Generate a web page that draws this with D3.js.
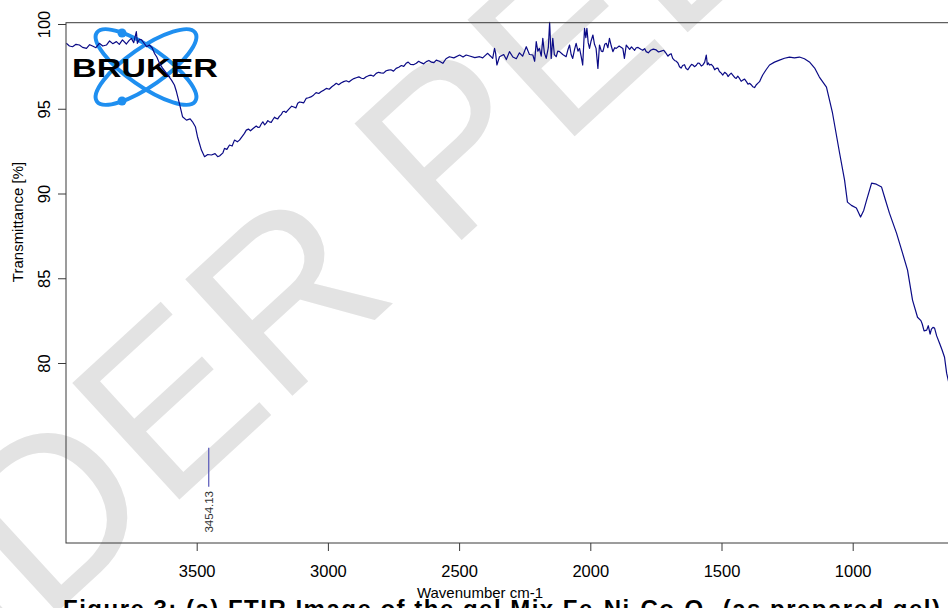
<!DOCTYPE html>
<html><head><meta charset="utf-8">
<script src="https://cdn.jsdelivr.net/npm/d3@7"></script>
<style>body{margin:0;background:#fff;overflow:hidden}svg{display:block}</style>
</head><body>
<svg id="c" width="948" height="608"></svg>
<script>
// ---- data ----
const wavenumbers = [
3997,3985,3973,3960,3947,3935,3920,3908,3897,3884,3871,3858,3844,3832,3820,3806,3795,3783,3768,3758,3749,3740,3730,3726,3718,3710,3700,3691,3680,3670,3661,3652,3642,3630,3615,3596,3585,3577,3566,3554,3539,3525,3516,3505,3497,3482,3470,3458,3444,3430,3420,3413,3400,3394,3385,3375,3365,3356,3345,3337,
3325,3311,3295,3273,3260,3248,3235,3223,3210,3197,3185,3172,3160,3146,3130,3115,3100,3083,3065,3045,3025,3006,2985,2968,2950,2930,2910,2892,2872,2854,2835,2816,2798,2778,2760,2740,2720,2702,2685,2663,2645,2625,2605,2587,2575,2562,2550,2537,2520,2498,2485,2473,2460,2440,2422,2410,2400,2391,2380,2372,2365,2361,2356,2346,
2330,2320,2308,2295,2282,2270,2258,2244,2232,2219,2212,2206,2200,2194,2187,2181,2175,2168,2160,2155,2149,2143,2137,2130,2124,2117,2105,2092,2085,2079,2073,2067,2060,2054,2047,2041,2035,2029,2022,2017,2013,2008,2003,1997,1990,1984,1978,1971,1965,1958,1952,1945,1939,1933,1927,1920,1914,1907,1901,1890,1876,1870,1863,1850,1838,1825,1812,1800,1787,1770,1749,1730,1711,1698,1686,1672,1660,1648,1635,1620,1609,1597,1584,1570,1558,1550,1546,1532,1520,1508,1495,1480,1470,1457,1444,1432,1419,1405,1393,1381,1368,1355,1343,1330,1317,1298,1279,1260,1241,1222,1203,1184,1165,1145,1127,1100,1077,1050,1031,1020,1005,986,970,958,947,928,910,890,875,860,833,810,791,772,753,735,718,700,688,669,650,642,630,
3318,3303,3284,3266,3254,3241,3229,3216,3203,3191,3178,3166,3153,3138,3122,3108,3092,3074,3055,3035,3015,2995,2976,2959,2940,2920,2901,2882,2863,2845,2826,2807,2788,2769,2750,2730,2711,2694,2674,2654,2635,2615,2596,
1843,1831,1818,1806,1793,1779,1760,1740,1720,1704,1692,1679,1666,1654,1641,1628,1614,1603,1590,1577,1564,1554,1539,1526,1514,1501,1488,1475,1463,1450,1438,1425,1412,1399,1387,1374,1362,1349,
740,728,712,705,694,680,660];
const transmittance = [
98.86,98.70,98.66,98.80,98.76,98.62,98.56,98.78,98.70,98.60,98.86,98.70,98.76,99.00,98.84,98.96,98.80,99.06,98.82,99.02,99.15,98.90,99.55,98.86,99.10,99.06,98.85,98.66,98.76,98.60,98.27,98.05,97.68,97.40,97.09,96.69,96.40,96.00,95.32,94.53,94.33,94.40,94.23,93.94,93.35,92.56,92.17,92.30,92.27,92.35,92.18,92.21,92.40,92.66,92.60,92.86,92.80,93.15,93.05,93.15,
93.40,93.74,93.70,93.98,93.92,94.23,94.15,94.23,94.35,94.43,94.55,94.82,94.78,95.02,95.10,95.32,95.38,95.61,95.70,95.95,96.02,96.20,96.30,96.50,96.52,96.65,96.70,96.83,96.80,96.89,96.98,97.09,97.12,97.24,97.30,97.38,97.55,97.68,97.62,97.68,97.72,97.78,97.75,97.87,97.80,97.68,97.95,98.07,98.00,98.17,98.05,98.17,98.11,98.02,98.07,98.00,98.15,98.27,98.10,97.97,98.56,98.30,97.58,98.07,
98.20,97.90,98.37,98.05,97.95,98.30,98.10,98.66,98.20,98.17,97.80,98.96,98.40,98.56,98.10,99.15,98.30,97.97,98.60,100.10,97.97,99.15,98.20,98.07,98.40,98.37,98.20,98.07,98.50,98.76,98.20,97.97,98.50,98.86,98.40,98.56,98.10,97.58,99.74,99.20,99.74,98.90,98.56,99.00,99.35,98.80,98.56,97.38,98.76,98.40,98.37,98.80,98.86,98.60,99.15,98.70,98.37,98.60,98.56,98.70,98.56,97.97,98.76,98.50,98.56,98.60,98.56,98.45,98.37,98.45,98.47,98.40,98.27,98.20,97.97,97.80,97.48,97.55,97.38,97.50,97.58,97.55,97.68,97.60,98.17,97.70,97.58,97.50,97.38,97.20,96.99,97.05,97.00,96.99,96.79,96.80,96.69,96.60,96.50,96.30,96.40,96.60,96.99,97.30,97.58,97.75,97.87,97.98,98.05,98.00,98.05,97.95,97.76,97.40,96.87,96.28,94.75,92.39,90.79,89.49,89.30,89.14,88.61,89.00,89.61,90.61,90.55,90.38,89.60,88.84,87.66,86.48,85.48,83.71,82.70,82.30,81.94,82.00,82.06,81.17,80.34,79.40,78.60,
93.55,93.80,93.85,93.90,94.10,94.05,94.30,94.20,94.50,94.40,94.65,94.85,94.90,95.15,95.05,95.40,95.35,95.65,95.80,95.90,96.10,96.15,96.40,96.42,96.60,96.58,96.78,96.88,96.78,96.95,96.92,97.15,97.10,97.28,97.22,97.45,97.50,97.75,97.60,97.80,97.65,97.85,97.72,
98.65,98.45,98.62,98.50,98.55,98.30,98.52,98.35,98.45,98.10,98.25,97.85,97.70,97.40,97.60,97.30,97.62,97.48,97.70,97.52,97.75,97.60,97.62,97.30,97.40,97.10,97.15,96.90,97.10,96.85,96.92,96.62,96.75,96.45,96.42,96.25,96.50,96.80,
82.50,81.90,82.20,81.70,82.10,81.60,80.80];
const xTickValues = [3500, 3000, 2500, 2000, 1500, 1000];
const yTickValues = [100, 95, 90, 85, 80];
const peakWavenumbers = [3454.13];
const peakLabels = ["3454.13"];
const xTitle = "Wavenumber cm-1";
const yTitle = "Transmittance [%]";
const watermarkText = "UNDER PEER REVIEW";
const logoText = "BRUKER";

// ---- drawing ----
const svg = d3.select("#c");
const FONT = "'Liberation Sans', Arial, sans-serif";
const L = 66, T = 22.7, B = 543, R = 1000;
const x = d3.scaleLinear().domain([3500, 1000]).range([196.7, 852.7]);
const y = d3.scaleLinear().domain([100, 80]).range([24, 363]);

// watermark
svg.append("text")
  .attr("transform", "translate(-255,791) rotate(-42.6)")
  .attr("dominant-baseline", "central")
  .attr("font-family", FONT).attr("font-size", 230)
  .attr("fill", "#e3e3e3")
  .text(watermarkText);

// logo
const logo = svg.append("g").attr("transform", "translate(146,67)");
[35, -35].forEach(a => {
  logo.append("ellipse").attr("rx", 60).attr("ry", 19)
    .attr("transform", `rotate(${a})`)
    .attr("fill", "none").attr("stroke", "#1f8ff0").attr("stroke-width", 4);
});
logo.append("circle").attr("cx", -24).attr("cy", -34).attr("r", 4.5).attr("fill", "#1f8ff0");
logo.append("circle").attr("cx", -24).attr("cy", 34).attr("r", 4.5).attr("fill", "#1f8ff0");
logo.append("text").attr("x", -74).attr("y", 9.5)
  .attr("font-family", FONT).attr("font-weight", 900).attr("font-size", 26)
  .attr("textLength", 146).attr("lengthAdjust", "spacingAndGlyphs")
  .attr("fill", "#000").text(logoText);

// clip
svg.append("clipPath").attr("id", "pc").append("rect")
  .attr("x", L).attr("y", T - 2).attr("width", R - L).attr("height", B - T + 2);

// spectrum
const data = wavenumbers.map((w, i) => [w, transmittance[i]]).sort((a, b) => b[0] - a[0]);
svg.append("path").datum(data)
  .attr("clip-path", "url(#pc)")
  .attr("d", d3.line().x(d => x(d[0])).y(d => y(d[1])))
  .attr("fill", "none").attr("stroke", "#0b0b86").attr("stroke-width", 1.2)
  .attr("stroke-linejoin", "round");

// frame
svg.append("rect").attr("x", L).attr("y", T).attr("width", R - L).attr("height", B - T)
  .attr("fill", "none").attr("stroke", "#3a3a3a").attr("stroke-width", 1);

// x axis
const gx = svg.append("g").attr("transform", `translate(0,${B})`)
  .call(d3.axisBottom(x).tickValues(xTickValues).tickSize(8).tickPadding(14).tickFormat(d3.format("d")));
gx.select(".domain").remove();
gx.selectAll("line").attr("stroke", "#3a3a3a");
gx.selectAll("text").attr("font-family", FONT).attr("font-size", 16.5).attr("fill", "#000");

// y axis
const gy = svg.append("g").attr("transform", `translate(${L},0)`)
  .call(d3.axisLeft(y).tickValues(yTickValues).tickSize(8).tickFormat(d3.format("d")));
gy.select(".domain").remove();
gy.selectAll("line").attr("stroke", "#3a3a3a");
gy.selectAll("text")
  .attr("x", null).attr("dy", null)
  .attr("transform", "translate(-16,0) rotate(-90)")
  .attr("text-anchor", "middle")
  .attr("font-family", FONT).attr("font-size", 16.5).attr("fill", "#000");

// titles
svg.append("text").attr("x", 480).attr("y", 598).attr("text-anchor", "middle")
  .attr("font-family", FONT).attr("font-size", 15).attr("fill", "#000").text(xTitle);
svg.append("text").attr("transform", "translate(23,222) rotate(-90)").attr("text-anchor", "middle")
  .attr("font-family", FONT).attr("font-size", 15).attr("fill", "#000").text(yTitle);

// peak marker
peakWavenumbers.forEach((p, i) => {
  svg.append("line").attr("x1", x(p)).attr("x2", x(p)).attr("y1", y(75)).attr("y2", y(72.7))
    .attr("stroke", "#5656b8").attr("stroke-width", 1.2);
  svg.append("text").attr("transform", `translate(${x(p) + 4},${y(72.45)}) rotate(-90)`)
    .attr("text-anchor", "end").attr("font-family", FONT).attr("font-size", 11.5)
    .attr("fill", "#333").text(peakLabels[i]);
});

// caption (cut off by the bottom edge, as in the reference)
const cap = svg.append("text").attr("x", 63).attr("y", 617)
  .attr("font-family", FONT).attr("font-weight", "bold").attr("font-size", 24).attr("fill", "#000")
  .attr("textLength", 877).attr("lengthAdjust", "spacing");
cap.append("tspan").text("Figure 3:  (a)  FTIR Image of the gel Mix Fe");
cap.append("tspan").attr("font-size", 15).attr("dy", 5).text("x");
cap.append("tspan").attr("dy", -5).text("Ni");
cap.append("tspan").attr("font-size", 15).attr("dy", 5).text("y");
cap.append("tspan").attr("dy", -5).text("Co");
cap.append("tspan").attr("font-size", 15).attr("dy", 5).text("z");
cap.append("tspan").attr("dy", -5).text("O");
cap.append("tspan").attr("font-size", 15).attr("dy", 5).text("4");
cap.append("tspan").attr("dy", -5).text(" (as prepared gel)");
</script>
</body></html>
